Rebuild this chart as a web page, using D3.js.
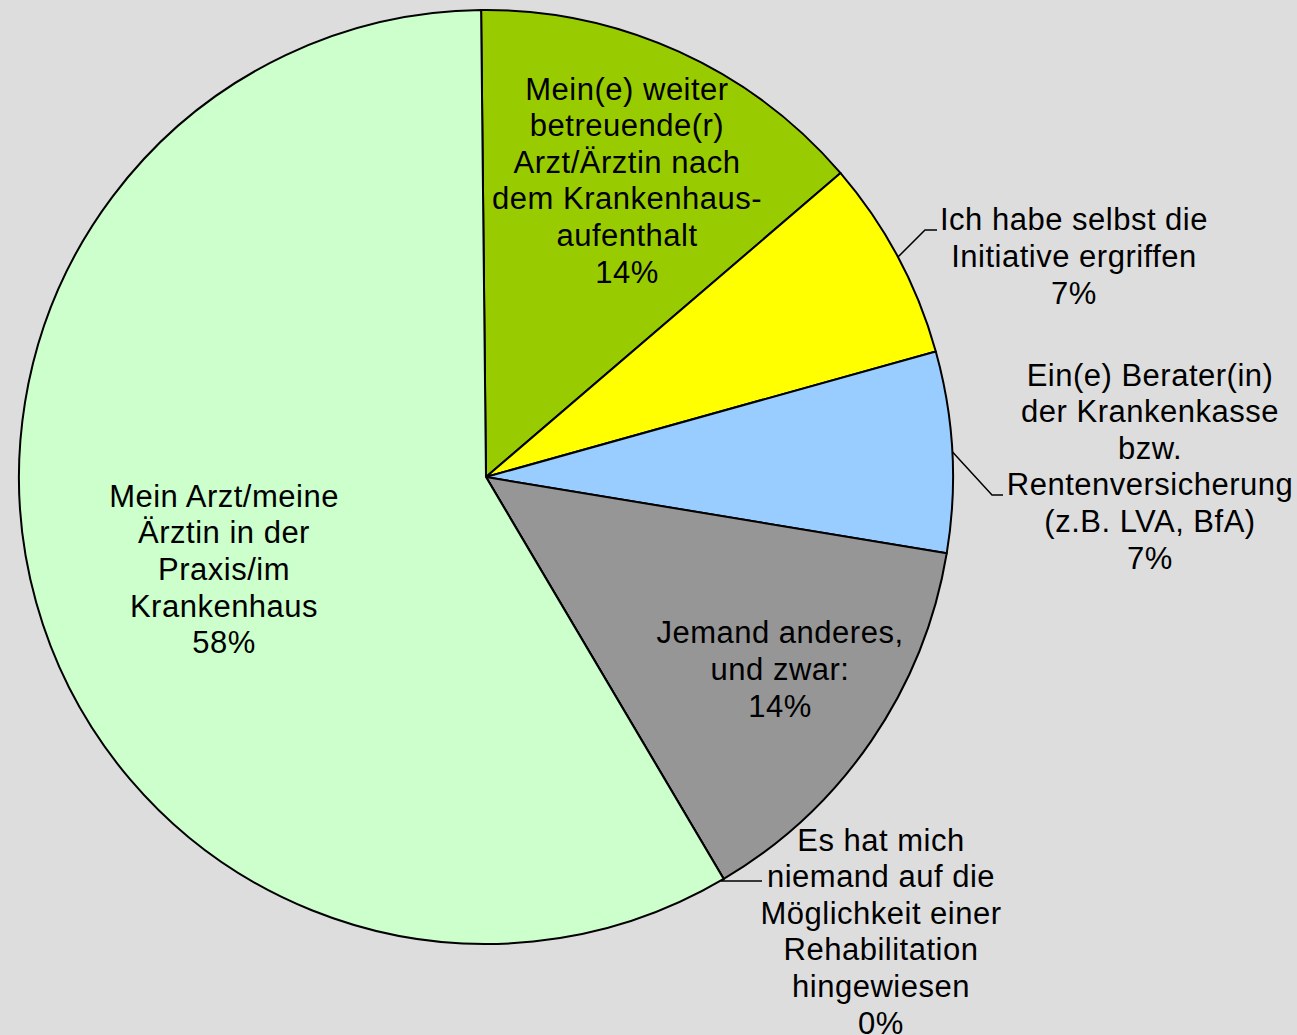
<!DOCTYPE html>
<html>
<head>
<meta charset="utf-8">
<script src="https://cdn.jsdelivr.net/npm/d3@7"></script>
<style>
  html, body { margin: 0; padding: 0; background: #dddddd; }
  svg { display: block; }
  .slice-label { font-family: "Liberation Sans", Arial, sans-serif; font-size: 31px; letter-spacing: 0.5px; fill: #000; }
</style>
</head>
<body>
<svg id="chart"></svg>
<script>
// Data
const categories = [
    ["Mein(e) weiter", "betreuende(r)", "Arzt/Ärztin nach", "dem Krankenhaus-", "aufenthalt"],
    ["Ich habe selbst die", "Initiative ergriffen"],
    ["Ein(e) Berater(in)", "der Krankenkasse", "bzw.", "Rentenversicherung", "(z.B. LVA, BfA)"],
    ["Jemand anderes,", "und zwar:"],
    ["Es hat mich", "niemand auf die", "Möglichkeit einer", "Rehabilitation", "hingewiesen"],
    ["Mein Arzt/meine", "Ärztin in der", "Praxis/im", "Krankenhaus"]
];
const counts = [10, 5, 5, 10, 0, 42];
const percentLabels = ["14%", "7%", "7%", "14%", "0%", "58%"];
const colors = ["#99cc00", "#ffff00", "#99ccff", "#969696", "#ccffcc", "#ccffcc"];

// Layout
const width = 1297, height = 1035;
const cx = 486, cy = 477, radius = 467;
const lineHeight = 36.6;
// label block centres, relative to pie centre
const labelOffsets = [[141, -297], [588, -221], [664, -11], [294, 192], [395, 454], [-262, 92]];
// leader lines: [elbow, end] relative to pie centre, null = no leader
const leaders = [null, [[439, -247], [451, -247]], [[506, 18], [517, 18]], null, [[236, 404], [276, 404]], null];

const svg = d3.select("#chart")
    .attr("width", width)
    .attr("height", height);

svg.append("rect")
    .attr("width", width)
    .attr("height", height)
    .attr("fill", "#dddddd");

const g = svg.append("g")
    .attr("transform", `translate(${cx},${cy})`);

const startAngle = -0.6 * Math.PI / 180;
const pie = d3.pie()
    .sort(null)
    .startAngle(startAngle)
    .endAngle(startAngle + 2 * Math.PI)
    .value(d => d);

const arcs = pie(counts);

const arc = d3.arc()
    .innerRadius(0)
    .outerRadius(radius);

const edgeArc = d3.arc()
    .innerRadius(radius)
    .outerRadius(radius);

g.selectAll(".slice")
    .data(arcs)
    .join("path")
    .attr("class", "slice")
    .attr("d", arc)
    .attr("fill", (d, i) => colors[i])
    .attr("stroke", "#000")
    .attr("stroke-width", 2)
    .attr("stroke-linejoin", "round");

// Leader lines
g.selectAll(".leader")
    .data(arcs.filter((d, i) => leaders[i]))
    .join("polyline")
    .attr("class", "leader")
    .attr("points", d => {
        const start = edgeArc.centroid(d);
        const l = leaders[d.index];
        return [start, l[0], l[1]].map(p => p.join(",")).join(" ");
    })
    .attr("fill", "none")
    .attr("stroke", "#000")
    .attr("stroke-width", 1.5);

// Labels
const labels = g.selectAll(".slice-label")
    .data(arcs)
    .join("text")
    .attr("class", "slice-label")
    .attr("text-anchor", "middle");

labels.each(function(d, i) {
    const lines = categories[i].concat([percentLabels[i]]);
    const [ox, oy] = labelOffsets[i];
    const firstBase = oy - (lines.length - 1) / 2 * lineHeight + 11;
    d3.select(this).selectAll("tspan")
        .data(lines)
        .join("tspan")
        .attr("x", ox)
        .attr("y", (t, j) => firstBase + j * lineHeight)
        .text(t => t);
});
</script>
</body>
</html>
